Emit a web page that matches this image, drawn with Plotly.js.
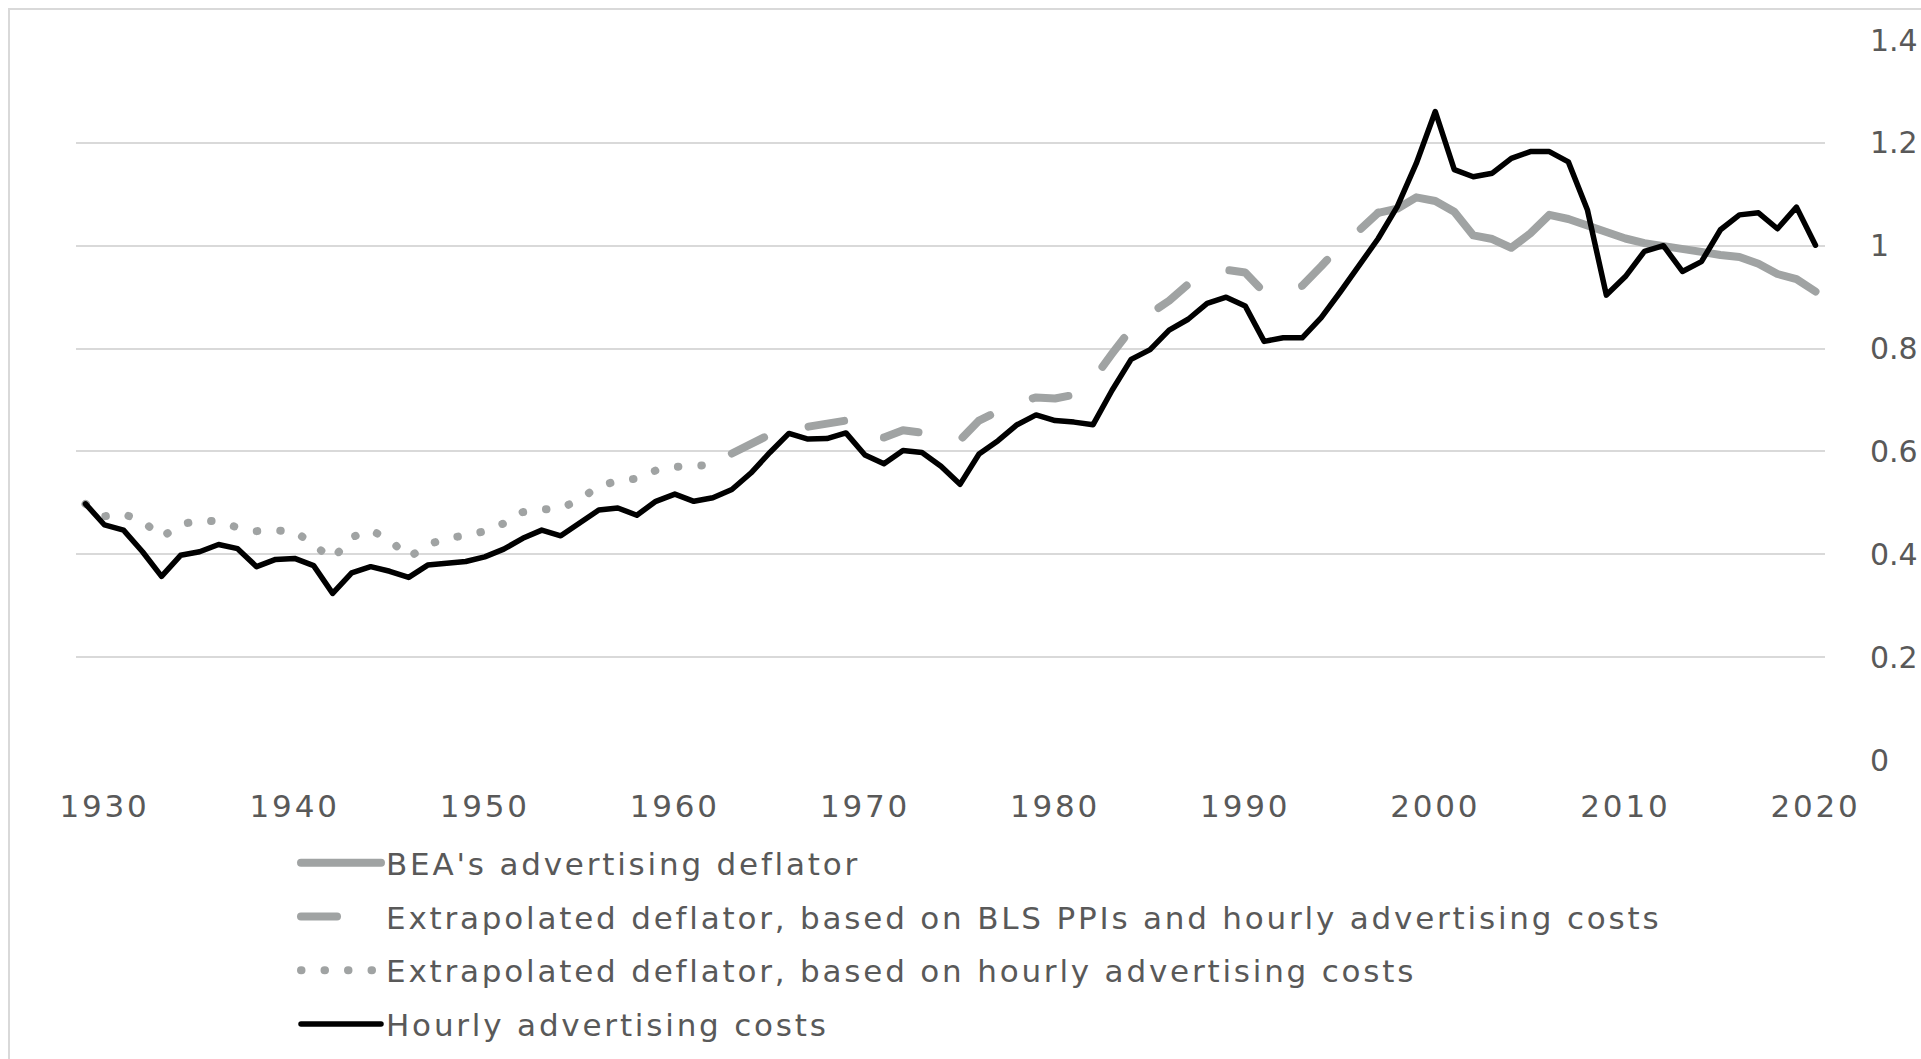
<!DOCTYPE html>
<html>
<head>
<meta charset="utf-8">
<script src="https://cdn.plot.ly/plotly-3.0.1.min.js"></script>
<style>
html, body { margin: 0; padding: 0; background: #ffffff; }
#chart { width: 1921px; height: 1059px; }
.js-line { stroke-linecap: round !important; stroke-linejoin: round !important; }
.legendtext, .xtick text { letter-spacing: 2.8px; }
</style>
</head>
<body>
<div id="chart"></div>
<script>
// ---------- DATA ----------
const hourlyYears = [1929,1930,1931,1932,1933,1934,1935,1936,1937,1938,1939,1940,1941,1942,1943,1944,1945,1946,1947,1948,1949,
  1950,1951,1952,1953,1954,1955,1956,1957,1958,1959,1960,1961,1962,1963,1964,1965,1966,1967,1968,1969,
  1970,1971,1972,1973,1974,1975,1976,1977,1978,1979,1980,1981,1982,1983,1984,1985,1986,1987,1988,1989,
  1990,1991,1992,1993,1994,1995,1996,1997,1998,1999,2000,2001,2002,2003,2004,2005,2006,2007,2008,2009,
  2010,2011,2012,2013,2014,2015,2016,2017,2018,2019,2020];
const hourlyCosts = [0.498,0.457,0.447,0.405,0.357,0.398,0.405,0.419,0.411,0.376,0.390,0.392,0.378,0.324,0.364,0.376,0.367,0.355,0.379,0.383,0.386,
  0.395,0.410,0.431,0.447,0.436,0.462,0.486,0.490,0.476,0.503,0.517,0.503,0.510,0.526,0.558,0.598,0.635,0.624,0.625,0.636,
  0.593,0.576,0.602,0.598,0.571,0.536,0.595,0.621,0.652,0.671,0.660,0.657,0.652,0.719,0.779,0.798,0.836,0.857,0.888,0.900,
  0.883,0.814,0.821,0.821,0.860,0.910,0.962,1.014,1.076,1.160,1.261,1.148,1.134,1.141,1.170,1.183,1.183,1.163,1.070,0.904,
  0.940,0.989,1.000,0.950,0.969,1.031,1.060,1.064,1.033,1.075,1.001];

const dottedYears = [1929,1930,1931,1932,1933,1934,1935,1936,1937,1938,1939,1940,1941,1942,1943,1944,1945,1946,1947,1948,1949,
  1950,1951,1952,1953,1954,1955,1956,1957,1958,1959,1960,1961,1962];
const dottedDeflator = [0.498,0.474,0.478,0.465,0.433,0.458,0.466,0.464,0.452,0.445,0.446,0.445,0.418,0.391,0.433,0.447,0.428,0.394,0.418,0.432,0.436,
  0.445,0.460,0.482,0.487,0.489,0.507,0.532,0.543,0.547,0.563,0.570,0.572,0.574];

const dashedYears = [1963,1964,1965,1966,1967,1968,1969,1970,1971,1972,1973,1974,1975,1976,1977,1978,1979,1980,1981,1982,1983,
  1984,1985,1986,1987,1988,1989,1990,1991,1992,1993,1994,1995,1996,1997];
const dashedDeflator = [0.596,0.615,0.633,0.642,0.648,0.652,0.660,0.628,0.627,0.641,0.637,0.632,0.622,0.660,0.678,0.695,0.705,0.703,0.710,0.740,0.790,
  0.838,0.868,0.893,0.925,0.942,0.953,0.948,0.909,0.915,0.922,0.960,1.000,1.030,1.064];

const beaYears = [1997,1998,1999,2000,2001,2002,2003,2004,2005,2006,2007,2008,2009,2010,2011,2012,2013,2014,2015,2016,2017,2018,2019,2020];
const beaDeflator = [1.064,1.072,1.094,1.087,1.066,1.020,1.013,0.996,1.024,1.060,1.052,1.038,1.025,1.014,1.005,1.000,0.996,0.988,0.982,0.978,0.965,0.945,0.935,0.911];

const seriesNames = ["BEA's advertising deflator",
  "Extrapolated deflator, based on BLS PPIs and hourly advertising costs",
  "Extrapolated deflator, based on hourly advertising costs",
  "Hourly advertising costs"];

const xTickVals = [1930,1940,1950,1960,1970,1980,1990,2000,2010,2020];
const xTickText = ["1930","1940","1950","1960","1970","1980","1990","2000","2010","2020"];
const yTickVals = [0,0.2,0.4,0.6,0.8,1,1.2,1.4];
const yTickText = ["0","0.2","0.4","0.6","0.8","1","1.2","1.4"];

// ---------- STYLE ----------
const GRAY = '#A0A3A3';
const TEXT = '#595959';
const FONT = 'DejaVu Sans, sans-serif';

const W = 1921, H = 1059;
const M = {l: 76, r: 96, t: 40, b: 299};
const PW = W - M.l - M.r, PH = H - M.t - M.b;
const px2x = p => (p - M.l) / PW;
const px2y = p => (H - M.b - p) / PH;

const traces = [
  {x: beaYears, y: beaDeflator, name: seriesNames[0], type: 'scatter', mode: 'lines',
   line: {color: GRAY, width: 8}, legendgroup: 'a', hoverinfo: 'skip'},
  {x: dashedYears, y: dashedDeflator, name: seriesNames[1], type: 'scatter', mode: 'lines',
   line: {color: GRAY, width: 8, dash: '36px,46px'}, legendgroup: 'b', hoverinfo: 'skip'},
  {x: dottedYears, y: dottedDeflator, name: seriesNames[2], type: 'scatter', mode: 'lines',
   line: {color: GRAY, width: 8, dash: '0.5px,23px'}, legendgroup: 'c', hoverinfo: 'skip'},
  {x: hourlyYears, y: hourlyCosts, name: seriesNames[3], type: 'scatter', mode: 'lines',
   line: {color: '#000000', width: 5.5}, legendgroup: 'd', hoverinfo: 'skip'}
];

const layout = {
  width: W, height: H,
  margin: M,
  paper_bgcolor: '#ffffff', plot_bgcolor: '#ffffff',
  font: {family: FONT, color: TEXT, size: 31},
  showlegend: true,
  legend: {
    x: px2x(296), xref: 'paper', xanchor: 'left',
    y: (H - 836) / H, yref: 'container', yanchor: 'top',
    orientation: 'v', font: {family: FONT, size: 31, color: TEXT},
    itemwidth: 80, tracegroupgap: 10.5, bgcolor: 'rgba(0,0,0,0)', borderwidth: 0,
    traceorder: 'grouped'
  },
  xaxis: {
    range: [1928.5, 2020.5], tickmode: 'array', tickvals: xTickVals, ticktext: xTickText,
    showgrid: false, zeroline: false, showline: false,
    ticks: 'outside', ticklen: 19, tickcolor: 'rgba(0,0,0,0)',
    tickfont: {family: FONT, size: 31, color: TEXT}, fixedrange: true
  },
  yaxis: {
    side: 'right', range: [0, 1.4], tickmode: 'array', tickvals: yTickVals, ticktext: yTickText,
    showgrid: true, gridcolor: '#D9D9D9', gridwidth: 2,
    zeroline: false, showline: false,
    ticks: 'outside', ticklen: 38, tickcolor: 'rgba(0,0,0,0)',
    tickfont: {family: FONT, size: 30, color: TEXT}, fixedrange: true
  },
  shapes: [{
    type: 'rect', xref: 'paper', yref: 'paper', layer: 'below',
    x0: px2x(9), x1: px2x(2100), y0: px2y(1300), y1: px2y(9),
    line: {color: '#D9D9D9', width: 2}, fillcolor: 'rgba(0,0,0,0)'
  }]
};

Plotly.newPlot('chart', traces, layout, {displayModeBar: false, staticPlot: true});
</script>
</body>
</html>
